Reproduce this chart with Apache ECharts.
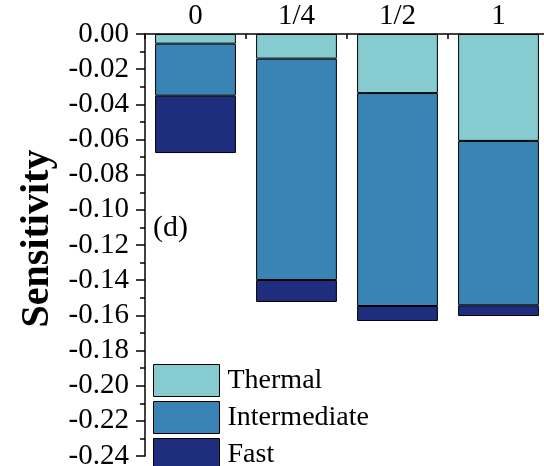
<!DOCTYPE html>
<html>
<head>
<meta charset="utf-8">
<script src="https://cdn.jsdelivr.net/npm/echarts@6/dist/echarts.min.js"></script>
<style>html,body{margin:0;padding:0;background:#fff;overflow:hidden}#c{width:549px;height:490px}</style>
</head>
<body>
<div id="c"></div>
<script>
var categories = ['0', '1/4', '1/2', '1'];
var thermal = [-0.0055, -0.0140, -0.0336, -0.0608];
var intermediate = [-0.0296, -0.1259, -0.1211, -0.0935];
var fast = [-0.0326, -0.0125, -0.0085, -0.0061];
var yTicks = { min: -0.24, max: 0, interval: 0.02 };

var FONT = "'Liberation Serif', 'Times New Roman', serif";
var chart = echarts.init(document.getElementById('c'), null, {renderer: 'canvas'});
function mk(name, data, color) {
  return {
    name: name, type: 'bar', stack: 's', data: data, barCategoryGap: '20%',
    itemStyle: { color: color, borderColor: '#000', borderWidth: 1 },
    emphasis: { disabled: true }
  };
}
chart.setOption({
  animation: false,
  grid: { left: 145, top: 34, width: 404, height: 422, containLabel: false },
  legend: {
    orient: 'vertical', left: 153, top: 364, padding: 0, itemWidth: 66, itemHeight: 32, itemGap: 4,
    icon: 'rect',
    textStyle: { fontFamily: FONT, fontSize: 28, color: '#000', padding: [0, 0, 0, 3] },
    itemStyle: { borderColor: '#000', borderWidth: 1 },
    data: ['Thermal', 'Intermediate', 'Fast']
  },
  xAxis: {
    type: 'category', data: categories, position: 'top',
    axisLine: { lineStyle: { color: '#000', width: 1.5 } },
    axisTick: { show: true, inside: true, length: 5, alignWithLabel: false, lineStyle: { color: '#000', width: 1.5 } },
    axisLabel: { fontFamily: FONT, fontSize: 29, color: '#000', margin: 3 }
  },
  yAxis: {
    type: 'value', min: yTicks.min, max: yTicks.max, interval: yTicks.interval,
    name: 'Sensitivity', nameLocation: 'middle', nameRotate: 90, nameGap: 86,
    nameTextStyle: { fontFamily: FONT, fontSize: 40, fontWeight: 'bold', color: '#000', padding: [0, 0, 0, 13] },
    axisLine: { show: true, lineStyle: { color: '#000', width: 1.5 } },
    axisTick: { show: true, length: 9, lineStyle: { color: '#000', width: 1.5 } },
    minorTick: { show: true, splitNumber: 2, length: 5, lineStyle: { color: '#000', width: 1.5 } },
    splitLine: { show: false },
    axisLabel: { fontFamily: FONT, fontSize: 29, color: '#000', margin: 16,
      formatter: function (v) { return v.toFixed(2); } }
  },
  graphic: [{
    type: 'text', left: 153, top: 213,
    style: { text: '(d)', font: "30px 'Liberation Serif'", fill: '#000' }
  }],
  series: [
    mk('Thermal', thermal, '#86CBCF'),
    mk('Intermediate', intermediate, '#3A84B5'),
    mk('Fast', fast, '#1F2D7F')
  ]
});
</script>
</body>
</html>
